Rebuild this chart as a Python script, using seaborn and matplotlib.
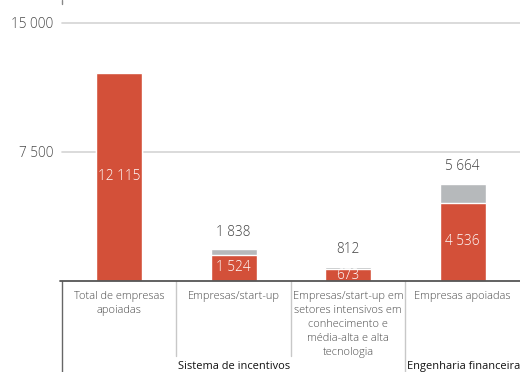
import matplotlib
matplotlib.use("Agg")
import matplotlib.pyplot as plt
import seaborn as sns
import pandas as pd

sns.set_theme(style="white")
plt.rcParams["font.family"] = ["Open Sans", "DejaVu Sans"]

categories = [
    "Total de empresas\napoiadas",
    "Empresas/start-up",
    "Empresas/start-up em\nsetores intensivos em\nconhecimento e\nmédia-alta e alta\ntecnologia",
    "Empresas apoiadas",
]
totals = [12115, 1838, 812, 5664]
supported = [12115, 1524, 673, 4536]
show_total_label = [False, True, True, True]
groups = [("Sistema de incentivos", 0.5), ("Engenharia financeira", 2.5)]
yticks = [7500, 15000]
ytick_labels = ["7 500", "15 000"]

RED = "#D35039"
GREY = "#B6B9BB"

df = pd.DataFrame({"cat": categories, "total": totals, "red": supported})

fig = plt.figure(figsize=(5.2, 3.72), dpi=100)
ax = fig.add_axes([0.119, 0.2446, 0.881, 0.6936])

sns.barplot(data=df, x="cat", y="total", color=GREY, width=0.40,
            saturation=1, ax=ax, zorder=2)
sns.barplot(data=df, x="cat", y="red", color=RED, width=0.40,
            saturation=1, ax=ax, zorder=3)

ax.set_xlim(-0.5, 3.5)
ax.set_ylim(0, 15000)
ax.set_yticks(yticks)
ax.set_yticklabels(ytick_labels, fontsize=9.8, color="#4A4A4A",
                   fontweight="light")
ax.tick_params(axis="y", length=0, pad=6)
ax.set_xticks([])
ax.set_xlabel("")
ax.set_ylabel("")
for s in ax.spines.values():
    s.set_visible(False)
for y in yticks:
    ax.axhline(y, color="#D4D4D4", lw=1.2, zorder=1, clip_on=False)
ax.axhline(0, color="#555555", lw=1.3, zorder=4, xmin=-0.005, clip_on=False)

def fmt(v):
    return f"{v:,}".replace(",", " ")

for i, (t, r) in enumerate(zip(totals, supported)):
    ax.text(i, r / 2, fmt(r), ha="center", va="center", color="white",
            fontsize=9.8, fontweight="light", zorder=5)
    if show_total_label[i]:
        ax.text(i, t + 1000, fmt(t), ha="center", va="center",
                color="#404040", fontsize=9.8, fontweight="light", zorder=5)

# category labels and separators below the baseline
trans = ax.get_xaxis_transform()
for i, c in enumerate(categories):
    ax.text(i, -0.04, c, ha="center", va="top", transform=trans,
            fontsize=7.9, color="#4A4A4A", linespacing=1.38,
            fontweight="light", clip_on=False)

for x, bottom, col in [(-0.5, -0.36, "#666666"), (0.5, -0.29, "#C8C8C8"),
                       (1.5, -0.29, "#C8C8C8"), (2.5, -0.36, "#C8C8C8")]:
    ax.plot([x, x], [0, bottom], transform=trans, color=col, lw=1.0,
            clip_on=False)

for label, x in groups:
    ax.text(x + 0.01, -0.33, label, ha="left", va="center",
            transform=trans, fontsize=7.9, color="#111111", clip_on=False)

# short axis stub at the top-left
fig.add_artist(plt.Line2D([62 / 520, 62 / 520], [1.0, 0.99],
                          color="#888888", lw=1.0))

fig.savefig("out.png", dpi=100)
